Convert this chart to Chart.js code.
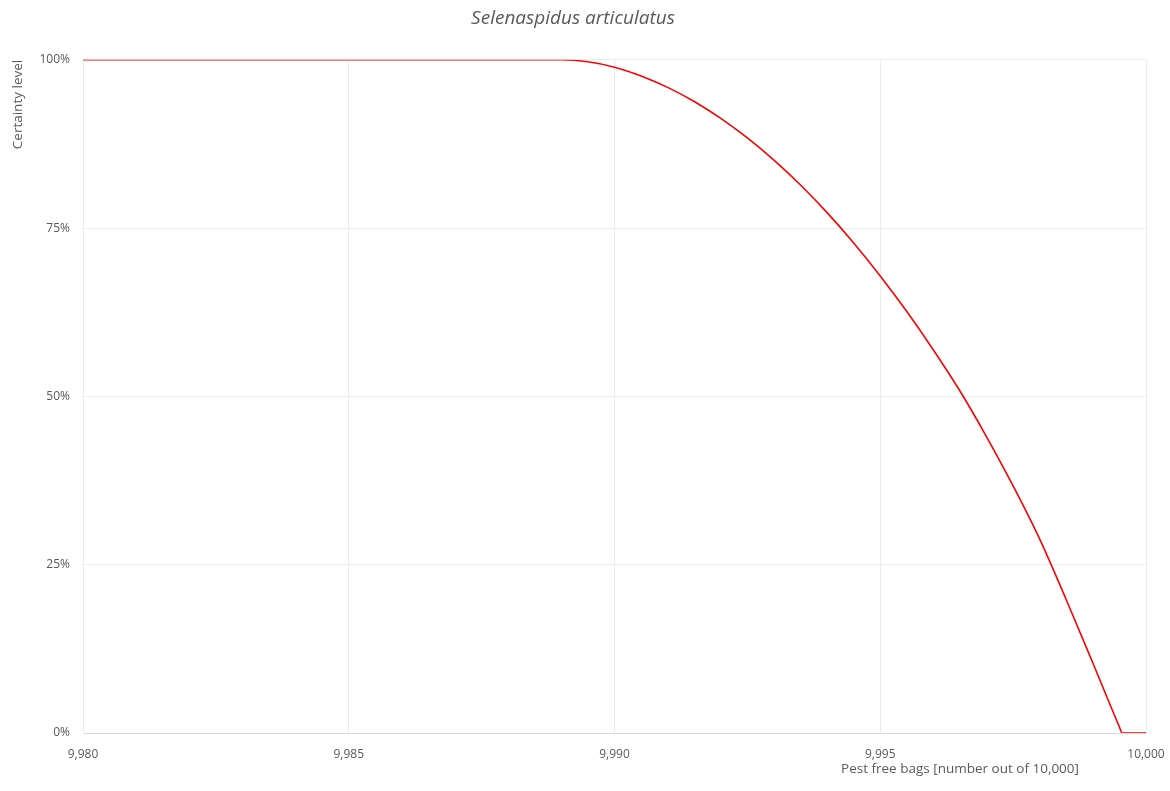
<!DOCTYPE html>
<html>
<head>
<meta charset="utf-8">
<script src="https://cdn.jsdelivr.net/npm/chart.js@4.4.1/dist/chart.umd.min.js"></script>
<style>
  html, body { margin: 0; padding: 0; background: #fff; }
  #wrap { width: 1170px; height: 791px; }
</style>
</head>
<body>
<div id="wrap"><canvas id="certaintyChart"></canvas></div>
<script>
// Pest free bags (x) and certainty level in % (y)
const bagValues = [9980, 9985, 9989, 9989.5, 9990, 9990.5, 9991, 9991.5, 9992, 9992.5,
                   9993, 9993.5, 9994, 9994.5, 9995, 9995.5, 9996, 9996.5, 9997, 9997.5,
                   9998, 9998.5, 9999, 9999.5, 9999.55, 10000];
const certaintyValues = [100, 100, 100, 99.7, 98.9, 97.6, 95.9, 93.8, 91.3, 88.4,
                         85.1, 81.4, 77.3, 72.8, 67.9, 62.6, 56.9, 50.8, 44.0, 36.7,
                         28.8, 19.8, 10.4, 0.9, 0, 0];
const xTicks = [9980, 9985, 9990, 9995, 10000];
const yTicks = [0, 25, 50, 75, 100];

const chartTitle = 'Selenaspidus articulatus';
const yTitle = 'Certainty level';
const xTitle = 'Pest free bags [number out of 10,000]';

const textColor = '#595959';
const gridColor = '#ececec';
const axisColor = '#d9d9d9';
const lineColor = '#ff0000';
const fontFamily = '"Open Sans", "Liberation Sans", sans-serif';

// x axis title sits off-centre, towards the right end
const xTitlePlugin = {
    id: 'xTitlePlugin',
    afterDraw(chart) {
        const ctx = chart.ctx;
        const area = chart.chartArea;
        ctx.save();
        ctx.font = '13.5px ' + fontFamily;
        ctx.fillStyle = textColor;
        ctx.textAlign = 'center';
        ctx.textBaseline = 'middle';
        ctx.fillText(xTitle, area.right - 186, area.bottom + 36);
        ctx.restore();
    }
};

const ctx = document.getElementById('certaintyChart').getContext('2d');
new Chart(ctx, {
    type: 'line',
    data: {
        datasets: [{
            label: chartTitle,
            data: bagValues.map((x, i) => ({ x: x, y: certaintyValues[i] })),
            borderColor: lineColor,
            backgroundColor: lineColor,
            borderWidth: 1.6,
            pointRadius: 0,
            cubicInterpolationMode: 'monotone',
            fill: false
        }]
    },
    options: {
        responsive: true,
        maintainAspectRatio: false,
        animation: false,
        layout: {
            padding: { top: 0, right: 24, bottom: 0, left: 0 }
        },
        scales: {
            x: {
                type: 'linear',
                min: 9980,
                max: 10000,
                afterFit: function(scale) {
                    scale.height = 58;
                    scale.paddingLeft = 0;
                    scale.paddingRight = 0;
                },
                afterBuildTicks: function(scale) { scale.ticks = xTicks.map(v => ({ value: v })); },
                grid: {
                    color: gridColor,
                    drawTicks: false
                },
                border: { color: axisColor },
                ticks: {
                    padding: 14,
                    color: textColor,
                    font: { family: fontFamily, size: 12 },
                    maxRotation: 0,
                    callback: function(value) {
                        return value.toLocaleString('en-US');
                    }
                }
            },
            y: {
                min: 0,
                max: 100,
                afterFit: function(scale) { scale.width = 83; },
                afterBuildTicks: function(scale) { scale.ticks = yTicks.map(v => ({ value: v })); },
                grid: {
                    color: function(c) { return c.tick && c.tick.value === 0 ? axisColor : gridColor; },
                    drawTicks: false
                },
                border: { color: gridColor },
                ticks: {
                    padding: 13,
                    color: textColor,
                    font: { family: fontFamily, size: 12 },
                    callback: function(value) { return value + '%'; }
                },
                title: {
                    display: true,
                    text: yTitle,
                    align: 'end',
                    color: textColor,
                    font: { family: fontFamily, size: 13.5 },
                    padding: { top: 10, bottom: 0 }
                }
            }
        },
        plugins: {
            legend: { display: false },
            tooltip: { enabled: false },
            title: {
                display: true,
                text: chartTitle,
                color: textColor,
                font: { family: fontFamily, size: 19, style: 'italic', weight: 'normal' },
                padding: { top: 7, bottom: 30 }
            }
        }
    },
    plugins: [xTitlePlugin]
});
</script>
</body>
</html>
